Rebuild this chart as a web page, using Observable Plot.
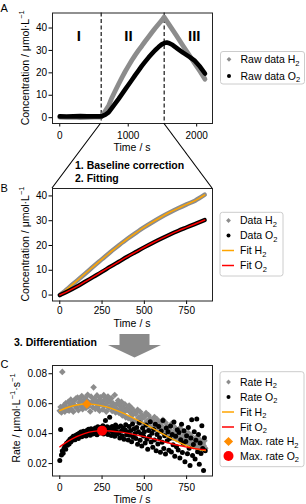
<!DOCTYPE html>
<html><head><meta charset="utf-8">
<script src="https://cdn.jsdelivr.net/npm/d3@7"></script>
<script src="https://cdn.jsdelivr.net/npm/@observablehq/plot@0.6"></script>
<style>
body{margin:0;background:#fff;}
#fig{position:relative;width:306px;height:504px;overflow:hidden;font-family:"Liberation Sans",Arial,sans-serif;}
#fig svg{display:block;}
</style></head><body><div id="fig"></div><script>
// ---------- Panel A: raw data ----------
const rawTimeH2 = [0,100,200,300,400,500,605,650,713,760,811,860,908,956,1004,1053,1102,1150,1199,1248,1296,1345,1393,1442,1490,1524,1600,1700,1800,1900,1975,2050,2121];
const rawH2     = [0.2,0.1,0.2,0.0,0.1,0.2,0.3,2.3,5.3,8.8,12.0,15.0,17.9,20.6,23.1,25.6,27.9,30.0,32.0,34.1,36.0,38.0,39.9,41.7,43.4,44.9,41.4,36.8,32.1,27.5,24.0,20.6,17.2];
const rawTimeO2 = [0,100,200,300,400,500,610,660,713,760,811,860,908,956,1004,1053,1102,1150,1199,1248,1296,1345,1393,1442,1490,1530,1563,1600,1650,1733,1800,1900,1975,2050,2121];
const rawO2     = [0.6,0.5,0.6,0.7,0.6,0.6,0.6,1.2,2.4,4.3,6.4,8.4,10.5,12.6,14.7,16.8,19.0,21.0,23.1,25.0,26.8,28.5,30.1,31.5,32.7,33.3,33.5,33.2,32.4,30.5,29.0,27.0,25.3,22.7,19.7];
const cutTimes = [605, 1525];
const regionNames = ["I","II","III"];
const regionTimes = [277, 1004, 1965];
const regionConc = [36.4, 36.4, 36.4];
const timeTicksA = [0, 1000, 2000];
const concTicks = [0, 10, 20, 30, 40];

// ---------- Panel B: baseline-corrected data and fits ----------
const timeB   = [0,50,100,150,200,250,300,350,400,450,500,550,600,650,700,750,800,857];
const dataH2B = [0,2.8,5.7,8.6,11.6,14.5,17.4,20.1,22.7,25.1,27.4,29.5,31.5,33.3,35.0,36.6,38.1,40.5];
const fitH2B  = [0,2.8,5.7,8.7,11.6,14.5,17.3,20.1,22.7,25.1,27.4,29.5,31.5,33.4,35.0,36.6,38.1,40.4];
const dataO2B = [0,1.6,3.4,5.4,7.4,9.4,11.5,13.5,15.5,17.4,19.3,21.1,22.8,24.4,25.9,27.3,28.7,30.3];
const fitO2B  = [0,1.6,3.4,5.4,7.4,9.5,11.5,13.5,15.5,17.4,19.3,21.1,22.8,24.4,25.9,27.3,28.7,30.3];
const timeTicksBC = [0, 250, 500, 750];

// ---------- Panel C: rates (sampled every 5 s) ----------
const rateStep = 5;
const rateH2 = [
0.0552,0.0578,0.0541,0.0812,0.0566,0.0589,0.0547,0.0603,0.0571,0.0558,
0.0612,0.0553,0.0584,0.0627,0.0561,0.0598,0.0546,0.0619,0.0587,0.0634,
0.0572,0.0641,0.0556,0.0608,0.0629,0.0585,0.0651,0.0563,0.0617,0.0594,
0.0638,0.0571,0.0622,0.0659,0.0583,0.0605,0.0548,0.0647,0.0612,0.0576,
0.0709,0.0631,0.0565,0.0602,0.0655,0.0579,0.0621,0.0553,0.0643,0.0598,
0.0614,0.0562,0.0657,0.0589,0.0631,0.0547,0.0605,0.0648,0.0572,0.0619,
0.0583,0.0636,0.0551,0.0602,0.0574,0.0658,0.0541,0.0597,0.0562,0.0621,
0.0538,0.0589,0.0556,0.0612,0.0521,0.0574,0.0543,0.0596,0.0509,0.0565,
0.0561,0.0503,0.0588,0.0542,0.0497,0.0571,0.0524,0.0555,0.0486,0.0539,
0.0531,0.0482,0.0559,0.0506,0.0471,0.0546,0.0495,0.0523,0.0463,0.0512,
0.0511,0.0462,0.0537,0.0484,0.0449,0.0523,0.0472,0.0501,0.0443,0.0492,
0.0483,0.0437,0.0511,0.0458,0.0425,0.0496,0.0446,0.0475,0.0418,0.0467,
0.0455,0.0412,0.0492,0.0431,0.0401,0.0474,0.0421,0.0449,0.0392,0.0441,
0.0428,0.0386,0.0465,0.0402,0.0371,0.0448,0.0395,0.0421,0.0363,0.0409,
0.0398,0.0357,0.0437,0.0374,0.0344,0.0419,0.0366,0.0391,0.0338,0.0384,
0.0367,0.0331,0.0406,0.0349,0.0319,0.0388,0.0341,0.0364,0.0314,0.0357,
0.0342,0.0309,0.0379,0.0326,0.0301,0.0362,0.0318,0.0341,0.0294,0.0333,
0.0321,0.0352,0.0303];
const rateO2 = [
0.0221,0.0427,0.0258,0.0284,0.0269,0.0301,0.0318,0.0296,0.0335,0.0322,
0.0348,0.0331,0.0362,0.0344,0.0371,0.0356,0.0383,0.0367,0.0359,0.0389,
0.0374,0.0396,0.0368,0.0402,0.0385,0.0411,0.0379,0.0398,0.0416,0.0391,
0.0407,0.0384,0.0421,0.0396,0.0429,0.0403,0.0389,0.0432,0.0412,0.0397,
0.0425,0.0401,0.0438,0.0413,0.0392,0.0446,0.0419,0.0405,0.0441,0.0428,
0.0412,0.0453,0.0398,0.0434,0.0487,0.0417,0.0446,0.0395,0.0439,0.0509,
0.0421,0.0387,0.0448,0.0409,0.0436,0.0382,0.0457,0.0414,0.0398,0.0442,
0.0405,0.0371,0.0451,0.0418,0.0384,0.0437,0.0362,0.0426,0.0459,0.0393,
0.0412,0.0358,0.0447,0.0389,0.0421,0.0346,0.0464,0.0376,0.0432,0.0401,
0.0367,0.0441,0.0329,0.0412,0.0473,0.0355,0.0398,0.0318,0.0436,0.0384,
0.0412,0.0337,0.0458,0.0362,0.0296,0.0421,0.0381,0.0479,0.0344,0.0403,
0.0309,0.0427,0.0358,0.0462,0.0285,0.0394,0.0331,0.0448,0.0372,0.0276,
0.0418,0.0343,0.0487,0.0301,0.0386,0.0264,0.0437,0.0352,0.0412,0.0289,
0.0368,0.0451,0.0277,0.0394,0.0325,0.0478,0.0249,0.0382,0.0313,0.0426,
0.0291,0.0407,0.0238,0.0359,0.0462,0.0274,0.0336,0.0419,0.0212,0.0348,
0.0386,0.0265,0.0441,0.0302,0.0187,0.0371,0.0493,0.0254,0.0328,0.0412,
0.0231,0.0356,0.0498,0.0279,0.0394,0.0196,0.0338,0.0267,0.0453,0.0301,
0.0153,0.0372,0.0286];
const fitTimeC = [0,50,100,160,200,250,300,350,400,450,500,550,600,650,700,750,800,860];
const fitH2C = [0.0553,0.0576,0.0591,0.0598,0.0595,0.0585,0.0570,0.0549,0.0524,0.0496,0.0466,0.0435,0.0404,0.0373,0.0345,0.0320,0.0300,0.0287];
const fitTimeO2C = [0,50,100,150,200,250,300,350,400,450,500,550,600,650,700,750,800,860];
const fitO2C = [0.0312,0.0350,0.0380,0.0402,0.0415,0.0420,0.0418,0.0412,0.0403,0.0392,0.0380,0.0366,0.0351,0.0336,0.0322,0.0310,0.0300,0.0292];
const maxRateH2 = {t: 160, v: 0.0598};
const maxRateO2 = {t: 250, v: 0.0420};
const rateTicks = [0.02, 0.04, 0.06, 0.08];

// ---------- styles ----------
const FONT = "Liberation Sans, Arial, sans-serif";
const GREY = "#8c8c8c", ORANGE = "#ffa500", DORANGE = "#ff8c00", RED = "#ff0000";
const rows = (ts, vs) => ts.map((t, i) => ({t, v: vs[i]}));
const baseStyle = {fontFamily: FONT, fontSize: "10px", color: "#000", background: "none", overflow: "visible"};
const W = 216, ML = 52, MR = 4;
const fig = document.getElementById("fig");
function place(el, left, top) {
  const d = document.createElement("div");
  d.style.cssText = `position:absolute;left:${left}px;top:${top}px;`;
  d.appendChild(el); fig.appendChild(d);
}

// Panel A
const A_TOP = 0, A_MT = 12.5, A_H = 138, A_MB = 15;
const plotA = Plot.plot({
  width: W, height: A_H, marginLeft: ML, marginRight: MR, marginTop: A_MT, marginBottom: A_MB,
  style: baseStyle,
  x: {domain: [-106, 2231], ticks: timeTicksA, tickFormat: "d", tickSize: 3.5, tickPadding: 4.5, label: null},
  y: {domain: [-2.6, 46.7], ticks: concTicks, tickFormat: "d", tickSize: 3.5, tickPadding: 2, label: null},
  marks: [
    Plot.ruleX(cutTimes, {stroke: "#000", strokeWidth: 1.1, strokeDasharray: "4,2.5"}),
    Plot.line(rows(rawTimeH2, rawH2), {x: "t", y: "v", stroke: GREY, strokeWidth: 4.8, strokeLinecap: "round", strokeLinejoin: "round"}),
    Plot.line(rows(rawTimeO2, rawO2), {x: "t", y: "v", stroke: "#000", strokeWidth: 4.6, strokeLinecap: "round", strokeLinejoin: "round"}),
    Plot.text(regionNames, {x: (d, i) => regionTimes[i], y: (d, i) => regionConc[i], text: d => d, fontWeight: "bold", fontSize: 15, fill: "#000"}),
    Plot.frame({stroke: "#222", strokeWidth: 1})
  ]
});
place(plotA, 0, A_TOP);

// Panel B
const B_TOP = 176, B_MT = 12, B_H = 140.5, B_MB = 16;
const plotB = Plot.plot({
  width: W, height: B_H, marginLeft: ML, marginRight: MR, marginTop: B_MT, marginBottom: B_MB,
  style: baseStyle,
  x: {domain: [-43, 903], ticks: timeTicksBC, tickFormat: "d", tickSize: 3.5, tickPadding: 2, label: null},
  y: {domain: [-2.4, 43.0], ticks: concTicks, tickFormat: "d", tickSize: 3.5, tickPadding: 2, label: null},
  marks: [
    Plot.line(rows(timeB, dataH2B), {x: "t", y: "v", stroke: GREY, strokeWidth: 4.5, strokeLinecap: "round", curve: "monotone-x"}),
    Plot.line(rows(timeB, fitH2B), {x: "t", y: "v", stroke: ORANGE, strokeWidth: 1.5, curve: "monotone-x"}),
    Plot.line(rows(timeB, dataO2B), {x: "t", y: "v", stroke: "#000", strokeWidth: 4.2, strokeLinecap: "round", curve: "monotone-x"}),
    Plot.line(rows(timeB, fitO2B), {x: "t", y: "v", stroke: RED, strokeWidth: 1.5, curve: "monotone-x"}),
    Plot.frame({stroke: "#222", strokeWidth: 1})
  ]
});
place(plotB, 0, B_TOP);

// Panel C
const C_TOP = 353, C_MT = 12, C_H = 138.5, C_MB = 16;
const plotC = Plot.plot({
  width: W, height: C_H, marginLeft: ML, marginRight: MR, marginTop: C_MT, marginBottom: C_MB,
  style: baseStyle,
  x: {domain: [-43, 903], ticks: timeTicksBC, tickFormat: "d", tickSize: 3.5, tickPadding: 4, label: null},
  y: {domain: [0.0117, 0.0855], ticks: rateTicks, tickFormat: ".2f", tickSize: 3.5, tickPadding: 2, label: null},
  marks: [
    Plot.dot(rateH2, {x: (d, i) => i * rateStep, y: d => d, symbol: "diamond2", r: 3.0, fill: GREY, stroke: "none"}),
    Plot.dot(rateO2, {x: (d, i) => i * rateStep, y: d => d, r: 2.5, fill: "#000", stroke: "none"}),
    Plot.line(rows(fitTimeC, fitH2C), {x: "t", y: "v", stroke: ORANGE, strokeWidth: 1.4, curve: "natural"}),
    Plot.line(rows(fitTimeO2C, fitO2C), {x: "t", y: "v", stroke: RED, strokeWidth: 1.4, curve: "natural"}),
    Plot.dot([maxRateH2], {x: "t", y: "v", symbol: "diamond2", r: 4.3, fill: DORANGE, stroke: "none"}),
    Plot.dot([maxRateO2], {x: "t", y: "v", r: 5, fill: RED, stroke: "none"}),
    Plot.frame({stroke: "#222", strokeWidth: 1})
  ]
});
place(plotC, 0, C_TOP);

// ---------- overlay: titles, legends, connectors, arrow ----------
const xA = plotA.scale("x");
const aBottom = A_TOP + A_H - A_MB;
const bTop = B_TOP + B_MT;
const sub = s => `<tspan dy="2.6" font-size="7.5">${s}</tspan>`;
const sup = s => `<tspan dy="-4.6" font-size="7.5">${s}</tspan>`;
const diamond = (cx, cy, h, fill) => `<polygon points="${cx},${cy-h} ${cx+h},${cy} ${cx},${cy+h} ${cx-h},${cy}" fill="${fill}"/>`;
function legend(x, y, w, h, items) {
  let s = `<rect x="${x}" y="${y}" width="${w}" height="${h}" rx="2.5" fill="#fff" stroke="#cccccc" stroke-width="1"/>`;
  for (const it of items) {
    const cy = it.cy, mx = x + 8.5;
    if (it.kind === "diamond") s += diamond(mx, cy, it.h, it.fill);
    if (it.kind === "circle") s += `<circle cx="${mx}" cy="${cy}" r="${it.r}" fill="${it.fill}"/>`;
    if (it.kind === "line") s += `<line x1="${x+2}" x2="${x+14}" y1="${cy}" y2="${cy}" stroke="${it.fill}" stroke-width="1.5"/>`;
    s += `<text x="${x+20}" y="${cy+3.8}" font-size="10.5">${it.label}</text>`;
  }
  return s;
}
const svgNS = "http://www.w3.org/2000/svg";
const ov = document.createElementNS(svgNS, "svg");
ov.setAttribute("width", 306); ov.setAttribute("height", 504);
ov.style.cssText = "position:absolute;left:0;top:0;overflow:visible;";
ov.setAttribute("font-family", FONT);
ov.innerHTML = `
<text x="0.5" y="11.7" font-size="11">A</text>
<text x="0.5" y="191.7" font-size="11">B</text>
<text x="0.5" y="368.3" font-size="11">C</text>
<text transform="translate(28.5,67.8) rotate(-90)" text-anchor="middle" font-size="10.5">Concentration / μmol·L${sup("−1")}</text>
<text transform="translate(28.5,244) rotate(-90)" text-anchor="middle" font-size="10.5">Concentration / μmol·L${sup("−1")}</text>
<text transform="translate(19.5,418) rotate(-90)" text-anchor="middle" font-size="10.5">Rate / μmol·L${sup("−1")}<tspan dy="4.6">·s</tspan>${sup("−1")}</text>
<text x="132" y="151" text-anchor="middle" font-size="10.5">Time / s</text>
<text x="132" y="326.5" text-anchor="middle" font-size="10.5">Time / s</text>
<text x="132" y="503" text-anchor="middle" font-size="10.5">Time / s</text>
<line x1="${xA.apply(cutTimes[0])}" y1="${aBottom}" x2="${ML}" y2="${bTop}" stroke="#000" stroke-width="1.1"/>
<line x1="${xA.apply(cutTimes[1])}" y1="${aBottom}" x2="${W - MR}" y2="${bTop}" stroke="#000" stroke-width="1.1"/>
<text x="75" y="169" font-size="10.5" font-weight="bold">1. Baseline correction</text>
<text x="75" y="182" font-size="10.5" font-weight="bold">2. Fitting</text>
<text x="14" y="346" font-size="10.5" font-weight="bold">3. Differentiation</text>
<polygon points="119.5,334 149.5,334 149.5,345 161,345 134.5,357.5 108,345 119.5,345" fill="#8a8a8a"/>
${legend(220.5, 51.5, 84, 32.5, [
  {kind: "diamond", h: 2.4, fill: GREY, cy: 59.3, label: `Raw data H${sub(2)}`},
  {kind: "circle", r: 2, fill: "#000", cy: 76, label: `Raw data O${sub(2)}`}])}
${legend(220, 212.3, 63, 63.7, [
  {kind: "diamond", h: 2.4, fill: GREY, cy: 220.5, label: `Data H${sub(2)}`},
  {kind: "circle", r: 2, fill: "#000", cy: 235.5, label: `Data O${sub(2)}`},
  {kind: "line", fill: ORANGE, cy: 250.5, label: `Fit H${sub(2)}`},
  {kind: "line", fill: RED, cy: 265.5, label: `Fit O${sub(2)}`}])}
${legend(220, 371.7, 84, 95, [
  {kind: "diamond", h: 2.4, fill: GREY, cy: 382, label: `Rate H${sub(2)}`},
  {kind: "circle", r: 2, fill: "#000", cy: 397, label: `Rate O${sub(2)}`},
  {kind: "line", fill: ORANGE, cy: 412, label: `Fit H${sub(2)}`},
  {kind: "line", fill: RED, cy: 427, label: `Fit O${sub(2)}`},
  {kind: "diamond", h: 4.6, fill: DORANGE, cy: 441.5, label: `Max. rate H${sub(2)}`},
  {kind: "circle", r: 5, fill: RED, cy: 456, label: `Max. rate O${sub(2)}`}])}
`;
fig.appendChild(ov);
</script></body></html>
